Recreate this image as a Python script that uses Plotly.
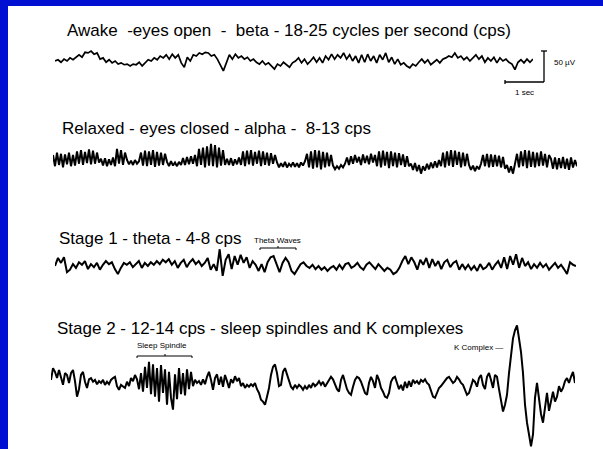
import plotly.graph_objects as go

W, H = 603, 449
UV_PER_PX = 50 / 31  # 50 uV calibration bar is 31 px tall

# ---------------- data (amplitudes in microvolts, one value per sample) ----------------
awake_uv = [0, 2, -2, 3, 0, 5, 2, 6, 10, 6, 14, 13, 16, 11, 13, 3, 5, -2, 2, -3, 0, -5, -3, -6, -5, -8, -5, -6, -2, -8,
            -3, 2, 0, 5, 2, 8, 5, 10, 3, 11, 5, 10, -3, -10, 6, 0, 10, 8, 13, 11, 14, 13, 8, 10, 3, -6, -16, -3, 10, 3,
            11, 5, 8, 3, 6, 0, 3, -2, -5, 0, -6, -3, -8, -13, -5, -8, -2, -6, -10, -3, 0, 5, -3, 3, -5, 0, 6, -2, 5, -3,
            8, 2, 11, 3, 10, 5, 13, 3, 10, 0, 8, -3, 10, -2, 11, 0, 8, -3, 10, 2, 13, -2, 6, -5, 3, -6, -3, -8, -11, -5,
            -8, -2, 3, -3, 2, -6, -2, 2, -3, 3, 5, 8, 6, 13, 5, 8, 2, 6, 0, 5, 10, 3, 8, -2, 5, 0, 6, -3, 5, 0,
            3, -2, -5, -14, -2, 2, -3, 3, -2, 3]

relaxed_uv = [8, -10, 12, -8, 10, -12, 9, -7, 12, -10, 8, -9,
              14, -6, 16, -8, 13, -5, 17, -7, 15, -6, 12, -4,
              2, -9, 3, -10, 1, -8, 4,
              -10, 18, -6, 16, -8, 12,
              0, -7, -1, -8, 0, -6, -2,
              12, -9, 15, -10, 14, -8, 16, -11, 13, -9, 12, -8, 10,
              -3, -10, -2, -9, -4, -10, -3, -8,
              3, -8, 5, -7, 6, -6, 8,
              -10, 18, -8, 20, -12, 22, -9, 26, -10, 24, -12, 20, -9, 16, -8,
              2, -8, 3, -9, 1, -7, 4,
              -8, 14, -10, 15, -7, 16, -9, 13, -6, 15, -10, 14, -8, 12, -9, 11, -6, 8,
              -4, -12, -5, -11, -3, -12, -6, -10, -4, -11, -5, -12, -4, -9, -2,
              10, -12, 14, -14, 16, -12, 15, -15, 13, -12, 12, -10, 8,
              -9, -15, -10, -14, -8, -12, -6,
              4, -8, 6, -6, 8, -4, 5, -8, 9, -5, 7, -7, 10, -4, 8,
              -10, 14, -12, 15, -9, 13, -13, 14, -10, 12, -12, 11, -8, 9, -11, 6, -10,
              -6, -16, -5, -18, -8, -22, -10, -17, -6, -15, -4, -13, -2, -12, 0,
              -10, 12, -12, 14, -9, 16, -11, 15, -8, 13, -12, 12, -10, 10, -8,
              -16, -9, -18, -10, -15, -6,
              8, -10, 10, -12, 9, -11, 8, -10, 7, -12, 5, -14,
              -8, -20, -10, -22, -6,
              10, -12, 14, -10, 16, -13, 15, -11, 13, -12, 12, -10, 14, -9, 10, -12, 8,
              2, -14, 4, -15, 3, -13, 5, -14, 2, -16, 4, -12, 0, -10]

stage1_uv = [0, 13, 5, 14, -10, -6, 3, -3, 6, 2, 8, -5, 3, -2, 5, -6, 2, 8, 3, 6, -5, -13, -3, 5, 2, 6, -2, 3, 8, -3,
             5, 0, 6, 2, 8, 3, 10, 6, 11, 2, 8, -3, 5, 10, -2, 6, 11, 3, 8, 0, 5, 13, -6, 3, -8, 27, -16, 10, 19, -5,
             16, 2, 18, 5, 14, -3, 8, 2, -8, 3, -10, 6, 14, 16, 3, -10, 5, 13, 6, -8, -13, -5, 3, 6, 0, -3, 2, -5, 0, -6,
             -2, -8, -3, 0, -6, 2, -5, 3, 5, -3, 0, 5, -2, -6, 2, 6, 0, -5, 3, -2, -8, -3, -6, -13, -10, -3, 8, 16, 3, 14,
             6, -6, 10, 2, 13, -3, 11, 0, 8, -5, 6, 10, -2, 5, 8, -6, 3, -5, 2, -6, 0, -8, 3, -5, -2, 5, -6, 2, 8, -3,
             14, -5, 16, 2, 19, -3, 13, 0, 6, -5, 3, -3, 5, -2, 3, -6, 0, 5, -3, 2, -5, -13, 6, 2, 0]

stage2_uv = [5, 24, 18, 8, 21, 10, -3, 16, 13, 0, 16, 21, 3, -22, -10, 13, 18, 2, -8, 6, 8, 2, 5, -2, 3, 0, 5, -3, 2, -2,
             5, 8, 10, -5, -11, -3, -6, -8, 2, -5, 8, 3, 13, 6,
             -10, 16, -14, 26, -8, 34, -18, 30, -22, 24, -30, 29, -16, 22, -35, 18, -24, -43, 14, -26, 24, -18, 16, -20, 22, -10, 18,
             -5, 5, 0, 3, -3, 6, -2, 10, 18, 5, -11, 8, 14, -3, 10, -6, 13, 3, -8, 6, 0, 11, 3, 8, -5, 0, -8, -3, -6, -2,
             -5, 0, -10, -16, -27, -30, -35, -22, -8, 13, 26, 30, 16, -5, -3, 18, 24, 14, 3, -6, -10, -3, -8, -3, -6,
             -11, -5, -10, -3, -8, 0, -5, -2, 3, -3, 2, -6, 0, 5, 10, 6, -3, -10, -14, 5, 13, 2, -10, -16, -19, -6, 5, 10, 8, 2,
             -8, -16, -19, 0, 10, 3, -8, 13, 5, -8, -14, -22, -24, -16, 2, 8, 10, 0, -10, -3, -12, 2, -8, 3, -6, 5, 0, 3, -2, 5,
             2, 6, 0, -3, -14, -22, -24, -16, -8, -5, 0, 3, 8, 10, 5, 0, 3, 10, 6, 0, -3, -10, -19, -16, -5, 5, 2, -6, 8, 13,
             -3, -10, 10, 16, 5, -8, 13, 10, -10, -30, -46, -35, -19, 16, 45, 72, 85, 93, 72, 50, 16, -35, -64, -85, -102, -83,
             -24, 0, -30, -50, -64, -40, -16, -45, -30, -14, -30, -22, -5, -14, -8, 3, 8, 0, 10, 18, 0]

series = [awake_uv, relaxed_uv, stage1_uv, stage2_uv]

titles = ["Awake\u00a0 -eyes open\u00a0 -\u00a0 beta - 18-25 cycles per second (cps)",
          "Relaxed - eyes closed - alpha -\u00a0 8-13 cps",
          "Stage 1 - theta - 4-8 cps",
          "Stage 2 - 12-14 cps - sleep spindles and K complexes"]

# ---------------- layout geometry (pixels) ----------------
# x0, x1, top, centre, bottom of each trace band
bands = [(55, 533, 36, 61, 86),
         (53, 577, 130, 160, 190),
         (55, 576, 242, 266, 292),
         (51, 575, 312, 383, 449)]
line_w = [1.7, 2.0, 2.0, 2.0]
title_pos = [(65, 30), (60, 128), (57, 238), (55, 328)]

FONT = "Liberation Sans, Arial, sans-serif"
BLUE = "#0010d2"


def px(x):
    return x / W


def py(y):
    return 1 - y / H


fig = go.Figure()
layout_axes = {}
for i, (vals, (x0, x1, top, cen, bot), lw) in enumerate(zip(series, bands, line_w), start=1):
    sfx = "" if i == 1 else str(i)
    fig.add_trace(go.Scatter(x=list(range(len(vals))), y=vals, mode="lines",
                             line=dict(color="black", width=lw),
                             xaxis="x" + sfx, yaxis="y" + sfx,
                             hoverinfo="skip", showlegend=False, cliponaxis=False))
    layout_axes["xaxis" + sfx] = dict(domain=[px(x0), px(x1)], range=[0, len(vals) - 1],
                                      visible=False, fixedrange=True, anchor="y" + sfx)
    layout_axes["yaxis" + sfx] = dict(domain=[py(bot), py(top)],
                                      range=[-(bot - cen) * UV_PER_PX, (cen - top) * UV_PER_PX],
                                      visible=False, fixedrange=True, anchor="x" + sfx)

annotations = []
for t, (tx, ty) in zip(titles, title_pos):
    annotations.append(dict(text=t, x=px(tx), y=py(ty), xref="paper", yref="paper",
                            xanchor="left", yanchor="middle", showarrow=False,
                            font=dict(family=FONT, size=17, color="black")))

small = [("50 \u00b5V", 552, 63), ("1 sec", 513, 92), ("Theta Waves", 252, 240),
         ("Sleep Spindle", 135, 345), ("K Complex \u2014", 452, 347)]
for t, tx, ty in small:
    annotations.append(dict(text=t, x=px(tx), y=py(ty), xref="paper", yref="paper",
                            xanchor="left", yanchor="middle", showarrow=False,
                            font=dict(family=FONT, size=8, color="black")))

shapes = [
    dict(type="rect", xref="paper", yref="paper", x0=0, x1=px(8), y0=0, y1=1,
         fillcolor=BLUE, line=dict(width=0)),
    dict(type="rect", xref="paper", yref="paper", x0=0, x1=1, y0=py(6), y1=1,
         fillcolor=BLUE, line=dict(width=0)),
]


def seg(xa, ya, xb, yb, w=1.3):
    shapes.append(dict(type="line", xref="paper", yref="paper", x0=px(xa), y0=py(ya),
                       x1=px(xb), y1=py(yb), line=dict(color="black", width=w)))


# calibration bar
seg(544, 51, 544, 82)
seg(541, 51, 547, 51)
seg(505, 82, 544, 82)
seg(505, 80, 505, 84)
# theta bracket
seg(260, 248, 296, 248, 1)
seg(260, 248, 260, 250, 1)
seg(296, 248, 296, 250, 1)
seg(278, 248, 278, 246, 1)
# spindle bracket
seg(137, 356, 192, 356, 1)
seg(137, 356, 137, 358, 1)
seg(192, 356, 192, 358, 1)
seg(165, 356, 165, 354, 1)

fig.update_layout(width=W, height=H, margin=dict(l=0, r=0, t=0, b=0),
                  paper_bgcolor="white", plot_bgcolor="white",
                  annotations=annotations, shapes=shapes, **layout_axes)
fig.write_html("out.html", config={"displayModeBar": False})
